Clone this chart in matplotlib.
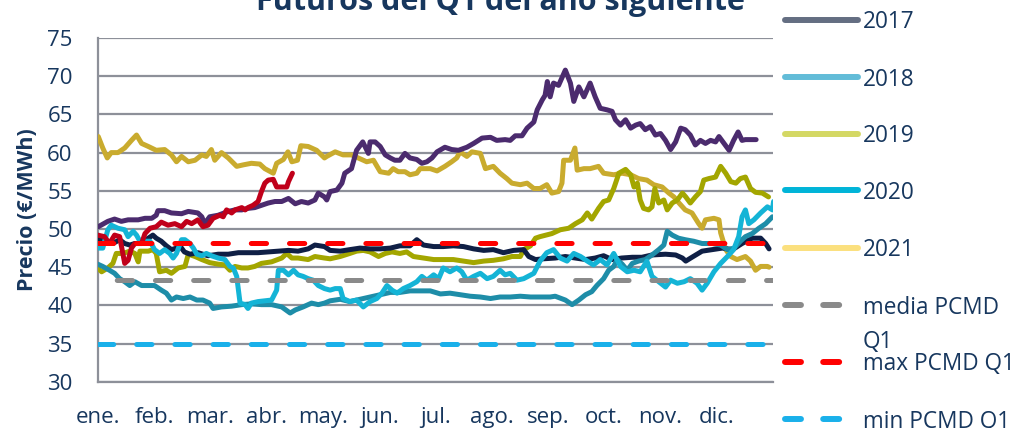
import matplotlib
matplotlib.use("Agg")
import matplotlib.pyplot as plt
from matplotlib.lines import Line2D

plt.rcParams['font.family'] = ['Open Sans', 'DejaVu Sans']
plt.rcParams['lines.scale_dashes'] = False

# ---------------- data ----------------
months = ["ene.", "feb.", "mar.", "abr.", "may.", "jun.", "jul.", "ago.", "sep.", "oct.", "nov.", "dic."]
yticks = [30, 35, 40, 45, 50, 55, 60, 65, 70, 75]

gold_x = [0.01, 0.09, 0.17, 0.24, 0.36, 0.48, 0.60, 0.69, 0.78, 0.90, 1.04, 1.19, 1.31, 1.40, 1.49, 1.61, 1.73, 1.85,
          1.93, 2.02, 2.08, 2.20, 2.32, 2.47, 2.59, 2.73, 2.88, 2.97, 3.12, 3.18, 3.30, 3.38, 3.45, 3.55, 3.61, 3.74,
          3.89, 4.03, 4.07, 4.22, 4.36, 4.51, 4.63, 4.78, 4.90, 5.02, 5.17, 5.25, 5.34, 5.46, 5.55, 5.67, 5.73, 5.91,
          6.03, 6.17, 6.29, 6.38, 6.44, 6.56, 6.65, 6.80, 6.89, 7.03, 7.15, 7.27, 7.36, 7.51, 7.63, 7.75, 7.86, 7.98,
          8.07, 8.19, 8.25, 8.28, 8.40, 8.48, 8.52, 8.64, 8.75, 8.90, 8.99, 9.17, 9.32, 9.47, 9.61, 9.76, 9.88, 10.03,
          10.15, 10.24, 10.33, 10.44, 10.56, 10.68, 10.74, 10.80, 10.95, 11.04, 11.07, 11.16, 11.25, 11.36, 11.51,
          11.60, 11.69, 11.78, 11.90, 11.93]
gold_y = [62.1, 60.6, 59.3, 60.0, 60.0, 60.6, 61.6, 62.3, 61.2, 60.8, 60.3, 60.4, 59.7, 58.8, 59.5, 58.8, 59.0, 59.7,
          59.5, 60.4, 59.0, 60.0, 59.3, 58.2, 58.4, 58.6, 58.5, 57.9, 57.3, 58.6, 59.1, 60.1, 58.8, 59.0, 60.9, 60.8,
          60.3, 59.3, 59.5, 60.1, 59.7, 59.7, 59.3, 58.8, 59.0, 57.5, 57.3, 57.9, 57.5, 57.5, 57.1, 57.3, 57.9, 57.9,
          57.6, 58.2, 58.8, 59.3, 60.1, 59.5, 60.1, 59.9, 57.9, 58.2, 57.3, 56.6, 56.0, 55.8, 56.0, 55.3, 55.3, 55.8,
          54.7, 54.9, 56.0, 59.0, 59.0, 60.6, 57.7, 57.9, 57.9, 58.2, 57.3, 57.1, 57.3, 57.1, 56.6, 56.4, 55.8, 55.5,
          54.7, 54.2, 53.4, 52.5, 52.1, 50.7, 50.1, 51.2, 51.4, 51.2, 49.5, 47.3, 46.4, 46.0, 46.4,
          45.8, 44.6, 45.1, 45.1, 45.0]

purple_x = [0.01, 0.18, 0.30, 0.42, 0.54, 0.72, 0.84, 0.96, 1.04, 1.07, 1.19, 1.31, 1.49, 1.61, 1.78, 1.85, 1.90, 1.99,
            2.14, 2.32, 2.44, 2.56, 2.67, 2.79, 2.91, 3.03, 3.15, 3.27, 3.39, 3.51, 3.62, 3.74, 3.86, 3.92, 4.03, 4.07,
            4.13, 4.25, 4.34, 4.39, 4.51, 4.60, 4.71, 4.81, 4.84, 4.93, 5.02, 5.11, 5.20, 5.28, 5.37, 5.46, 5.55, 5.67,
            5.76, 5.85, 5.94, 6.03, 6.17, 6.29, 6.41, 6.56, 6.68, 6.83, 6.98, 7.09, 7.24, 7.33, 7.42, 7.54, 7.63, 7.75,
            7.81, 7.90, 7.95, 7.99, 8.04, 8.10, 8.19, 8.31, 8.40, 8.46, 8.55, 8.64, 8.75, 8.84, 8.93, 9.05, 9.14, 9.20,
            9.29, 9.38, 9.47, 9.56, 9.64, 9.73, 9.82, 9.91, 10.00, 10.09, 10.18, 10.27, 10.36, 10.44, 10.53, 10.62,
            10.71, 10.80, 10.89, 10.98, 11.04, 11.13, 11.22, 11.30, 11.38, 11.45, 11.51, 11.70]
purple_y = [50.3, 51.0, 51.3, 51.0, 51.2, 51.2, 51.4, 51.4, 51.8, 52.4, 52.4, 52.1, 52.0, 52.3, 52.1, 51.6, 50.7, 51.6,
            51.8, 52.3, 52.5, 52.5, 52.7, 52.8, 53.1, 53.4, 53.6, 53.6, 54.0, 53.3, 53.6, 53.4, 53.8, 54.7, 54.2, 53.8,
            54.9, 55.1, 56.0, 57.3, 57.9, 60.3, 61.4, 59.9, 61.4, 61.4, 60.8, 59.7, 59.3, 59.0, 59.0, 59.9, 59.3, 59.1,
            58.6, 58.8, 59.3, 60.1, 60.7, 60.4, 60.3, 60.7, 61.2, 61.9, 62.0, 61.6, 61.7, 61.6, 62.2, 62.2, 63.2, 64.0,
            65.6, 66.9, 67.5, 69.3, 67.3, 69.1, 68.8, 70.8, 69.1, 66.7, 68.6, 67.3, 69.1, 67.3, 65.8, 65.6, 65.4, 64.3,
            63.6, 64.3, 63.2, 63.6, 63.8, 63.0, 63.4, 62.3, 62.5, 61.6, 60.4, 61.4, 63.2, 63.0, 62.3, 61.0,
            61.6, 61.2, 61.6, 61.4, 62.1, 61.2, 60.3, 61.6, 62.7, 61.6, 61.7, 61.7]

red_x = [0.00, 0.12, 0.21, 0.30, 0.39, 0.48, 0.54, 0.60, 0.66, 0.78, 0.84, 0.93, 1.04, 1.13, 1.25, 1.37, 1.49, 1.58,
         1.67, 1.78, 1.87, 1.96, 2.05, 2.17, 2.23, 2.29, 2.38, 2.44, 2.56, 2.62, 2.67, 2.76, 2.85, 2.91, 2.97, 3.03,
         3.12, 3.18, 3.27, 3.36, 3.39, 3.46]
red_y = [49.2, 49.0, 48.1, 49.2, 49.0, 45.5, 45.9, 47.5, 48.1, 48.1, 49.4, 50.1, 50.3, 50.9, 50.5, 50.7, 50.3, 51.0,
         50.7, 51.2, 50.3, 50.5, 51.4, 51.8, 51.6, 52.5, 52.1, 52.5, 52.8, 52.5, 52.8, 53.1, 53.6, 54.9, 56.0, 56.4,
         56.5, 55.5, 55.5, 55.5, 56.2, 57.3]

navy_x = [0.00, 0.07, 0.15, 0.27, 0.39, 0.48, 0.57, 0.66, 0.78, 0.90, 0.98, 1.04, 1.13, 1.22, 1.31, 1.40, 1.46, 1.54,
          1.64, 1.78, 1.96, 2.14, 2.32, 2.50, 2.67, 2.85, 3.03, 3.21, 3.39, 3.56, 3.74, 3.86, 4.03, 4.13, 4.31, 4.48,
          4.66, 4.84, 5.02, 5.20, 5.37, 5.55, 5.67, 5.79, 5.97, 6.14, 6.32, 6.50, 6.68, 6.86, 7.03, 7.21, 7.39, 7.57,
          7.66, 7.78, 7.92, 8.13, 8.31, 8.49, 8.67, 8.84, 8.99, 9.14, 9.31, 9.50, 9.67, 9.85, 10.09, 10.27, 10.39,
          10.45, 10.56, 10.74, 10.92, 11.10, 11.28, 11.45, 11.63, 11.78, 11.87, 11.93]
navy_y = [48.8, 48.6, 48.4, 48.1, 48.6, 48.1, 47.9, 48.1, 48.1, 48.8, 49.2, 48.8, 48.4, 47.8, 47.3, 47.5, 47.8, 47.0,
          46.7, 46.9, 46.5, 46.7, 46.7, 46.9, 46.9, 46.9, 47.0, 47.1, 47.2, 47.1, 47.4, 47.9, 47.7, 47.2, 47.1, 47.3,
          47.5, 47.4, 47.4, 47.5, 47.8, 47.8, 48.6, 47.9, 47.7, 47.7, 47.8, 47.7, 47.4, 47.2, 47.3, 46.9, 47.2, 47.3,
          46.4, 46.0, 46.1, 46.2, 46.4, 46.2, 46.0, 46.2, 46.5, 46.0, 46.2, 46.3, 46.3, 46.6, 46.7, 46.6, 46.2,
          45.8, 46.3, 47.1, 47.3, 47.5, 47.3, 48.1, 48.8, 48.8, 48.1, 47.4]

olive_x = [0.00, 0.07, 0.18, 0.27, 0.33, 0.45, 0.57, 0.66, 0.72, 0.75, 0.90, 0.98, 1.04, 1.10, 1.22, 1.31, 1.43, 1.55,
           1.61, 1.73, 1.85, 1.99, 2.14, 2.26, 2.35, 2.44, 2.56, 2.67, 2.79, 2.91, 3.09, 3.27, 3.36, 3.45, 3.56, 3.74,
           3.86, 4.03, 4.13, 4.31, 4.48, 4.60, 4.72, 4.84, 4.99, 5.11, 5.23, 5.37, 5.49, 5.61, 5.79, 5.97, 6.14, 6.32,
           6.50, 6.68, 6.86, 7.03, 7.21, 7.36, 7.51, 7.57, 7.69, 7.78, 7.86, 8.07, 8.22, 8.37, 8.49, 8.61, 8.70, 8.78,
           8.90, 8.99, 9.08, 9.17, 9.23, 9.26, 9.38, 9.47, 9.53, 9.59, 9.64, 9.70, 9.79, 9.85, 9.90, 9.97, 10.06,
           10.12, 10.21, 10.30, 10.39, 10.45, 10.53, 10.62, 10.71, 10.77, 10.86, 10.98, 11.07, 11.16, 11.25, 11.34,
           11.42, 11.51, 11.60, 11.69, 11.81, 11.92]
olive_y = [44.9, 44.4, 44.9, 45.5, 46.8, 46.8, 47.1, 46.8, 45.7, 47.1, 47.1, 47.3, 46.8, 44.4, 44.6, 44.2, 44.9, 45.1,
           46.7, 46.4, 46.0, 45.6, 45.4, 45.3, 44.6, 45.1, 44.9, 44.9, 45.1, 45.5, 45.7, 46.2, 46.8, 46.2, 46.2, 46.0,
           46.4, 46.2, 46.1, 46.4, 46.8, 47.1, 47.2, 47.0, 46.4, 46.8, 47.0, 46.8, 47.0, 46.4, 46.2, 46.0, 46.0, 46.0,
           45.8, 45.6, 45.8, 45.9, 46.1, 46.4, 46.4, 47.3, 47.8, 48.8, 49.0, 49.4, 49.9, 50.1, 50.7, 51.2, 52.1, 51.3,
           52.7, 53.6, 53.8, 55.3, 56.6, 57.3, 57.8, 57.1, 55.5, 56.0, 53.8, 52.7, 52.5, 52.9, 55.3, 53.4, 53.8,
           52.5, 53.4, 53.8, 54.7, 54.2, 53.4, 54.2, 54.9, 56.4, 56.6, 56.8, 58.2, 57.3, 56.2, 56.0,
           56.6, 56.8, 55.3, 54.8, 54.7, 54.2]

teal_x = [0.00, 0.09, 0.21, 0.30, 0.39, 0.48, 0.57, 0.66, 0.78, 0.90, 1.01, 1.13, 1.22, 1.31, 1.40, 1.52, 1.64, 1.76,
          1.87, 1.99, 2.05, 2.20, 2.38, 2.56, 2.73, 2.91, 3.09, 3.27, 3.42, 3.51, 3.65, 3.80, 3.92, 4.03, 4.13, 4.31,
          4.48, 4.66, 4.84, 5.02, 5.20, 5.37, 5.55, 5.73, 5.91, 6.09, 6.26, 6.44, 6.62, 6.80, 6.98, 7.15, 7.33, 7.51,
          7.69, 7.86, 8.04, 8.13, 8.31, 8.43, 8.55, 8.67, 8.78, 8.87, 8.99, 9.08, 9.17, 9.23, 9.32, 9.41, 9.50, 9.61,
          9.73, 9.85, 9.97, 10.06, 10.12, 10.21, 10.32, 10.44, 10.59, 10.74, 10.92, 11.07, 11.19, 11.31, 11.42, 11.51,
          11.63, 11.75, 11.87, 11.99]
teal_y = [45.4, 45.1, 44.6, 44.2, 43.5, 43.1, 42.6, 43.1, 42.6, 42.6, 42.6, 42.0, 41.6, 40.7, 41.1, 40.9, 41.1, 40.7,
          40.7, 40.3, 39.6, 39.8, 39.9, 40.1, 40.2, 40.1, 40.1, 39.8, 39.0, 39.4, 39.8, 40.3, 40.1, 40.3, 40.6, 40.8,
          40.5, 40.8, 41.1, 41.4, 41.7, 41.7, 41.9, 41.9, 41.9, 41.5, 41.6, 41.4, 41.2, 41.1, 40.9, 41.1, 41.1, 41.2,
          41.1, 41.1, 41.1, 41.2, 40.7, 40.1, 40.7, 41.4, 41.8, 42.6, 43.5, 44.6, 45.1, 46.0, 45.4, 44.6, 45.5, 45.8,
          46.0, 46.6, 47.3, 47.9, 49.7, 49.2, 48.8, 48.6, 48.4, 48.1, 48.1, 47.9, 47.3, 47.5, 48.4, 49.0,
          49.4, 50.1, 50.7, 51.6]

lblue_x = [0.00, 0.09, 0.18, 0.24, 0.36, 0.48, 0.54, 0.63, 0.69, 0.75, 0.84, 0.93, 1.01, 1.10, 1.19, 1.28, 1.34, 1.40,
           1.49, 1.55, 1.64, 1.70, 1.76, 1.85, 1.93, 2.02, 2.14, 2.26, 2.35, 2.41, 2.47, 2.53, 2.62, 2.67, 2.73, 2.85,
           2.97, 3.09, 3.18, 3.21, 3.30, 3.39, 3.48, 3.56, 3.65, 3.74, 3.83, 3.92, 4.03, 4.13, 4.22, 4.31, 4.36, 4.48,
           4.60, 4.72, 4.84, 4.96, 5.05, 5.14, 5.23, 5.32, 5.43, 5.55, 5.67, 5.76, 5.85, 5.97, 6.06, 6.14, 6.26, 6.38,
           6.47, 6.56, 6.68, 6.80, 6.92, 7.03, 7.15, 7.24, 7.33, 7.45, 7.57, 7.75, 7.86, 7.98, 8.10, 8.22, 8.34, 8.46,
           8.58, 8.70, 8.81, 8.93, 9.05, 9.17, 9.29, 9.41, 9.53, 9.64, 9.76, 9.85, 9.97, 10.09, 10.18, 10.30, 10.42,
           10.53, 10.65, 10.74, 10.83, 10.95, 11.07, 11.19, 11.30, 11.39, 11.45, 11.51, 11.57, 11.66, 11.78, 11.90,
           11.99, 12.01]
lblue_y = [47.5, 47.5, 49.9, 50.5, 50.1, 49.9, 49.0, 49.7, 49.2, 48.4, 48.4, 48.4, 47.3, 46.8, 47.3, 46.8, 46.2, 46.8,
           48.6, 48.6, 48.1, 47.5, 46.7, 46.5, 46.8, 46.5, 46.2, 46.0, 45.1, 44.9, 43.8, 40.3, 40.1, 39.6, 40.3, 40.5,
           40.6, 40.7, 42.0, 44.6, 44.6, 44.0, 44.6, 44.0, 43.8, 43.5, 43.3, 42.6, 42.2, 42.0, 42.2, 42.2, 40.9, 40.5,
           40.7, 39.8, 40.5, 40.9, 41.6, 42.6, 42.0, 41.6, 42.2, 42.6, 43.1, 43.8, 43.3, 44.0, 43.5, 44.9, 44.4, 44.9,
           44.4, 43.3, 43.8, 44.2, 43.5, 43.8, 44.6, 44.0, 44.2, 43.3, 43.5, 44.2, 45.8, 46.9, 47.3, 46.2, 45.8, 46.8,
           46.4, 45.8, 45.3, 46.0, 45.3, 46.8, 45.1, 44.4, 44.6, 44.4, 45.8, 43.8, 43.1, 42.4, 43.3, 42.9, 43.1,
           43.5, 42.9, 42.0, 42.9, 44.4, 45.5, 46.4, 47.3, 49.0, 51.6, 52.5, 50.7, 51.2, 52.1, 52.9,
           52.5, 53.6]

media_pcmd_q1 = 43.3
max_pcmd_q1 = 48.2
min_pcmd_q1 = 34.9

legend_labels = ["2017", "2018", "2019", "2020", "2021", "media PCMD\nQ1", "max PCMD Q1", "min PCMD Q1"]

# ---------------- styling ----------------
NAVY_TXT = "#17375e"
GRID = "#8d9099"
W, H = 1020, 428

fig = plt.figure(figsize=(W / 100, H / 100), dpi=100)
ax = fig.add_axes([97.7 / W, 1 - 381.8 / H, (773 - 97.7) / W, (381.8 - 38) / H])

lw = 3.6
solid = [
    (gold_x, gold_y, "#c9ab2e"),
    (purple_x, purple_y, "#4b2b6e"),
    (olive_x, olive_y, "#a3a600"),
    (navy_x, navy_y, "#0f1f45"),
    (teal_x, teal_y, "#1e8da8"),
    (lblue_x, lblue_y, "#14b4d6"),
    (red_x, red_y, "#c0001a"),
]
for xs, ys, c in solid:
    ax.plot(xs, ys, color=c, lw=lw, solid_joinstyle="round", solid_capstyle="round", zorder=3)

dash_on, dash_off = 11.0, 16.5
for val, c, off in [(media_pcmd_q1, "#8a8a8a", 14.0), (max_pcmd_q1, "#ff0000", 0.0), (min_pcmd_q1, "#1ab0ea", 0.0)]:
    ax.plot([0, 12], [val, val], color=c, lw=lw, dash_capstyle="round",
            linestyle=(off, (dash_on, dash_off)), zorder=4)

ax.set_xlim(0, 12)
ax.set_ylim(30, 75)
ax.set_yticks(yticks)
ax.set_xticks(range(12))
ax.set_xticklabels(months)
ax.yaxis.grid(True, color=GRID, lw=1.6, zorder=0)
ax.set_axisbelow(True)
for s in ["top", "right"]:
    ax.spines[s].set_visible(False)
for s in ["left", "bottom"]:
    ax.spines[s].set_color(GRID)
    ax.spines[s].set_linewidth(1.6)
ax.tick_params(axis="both", length=0, labelsize=16, labelcolor=NAVY_TXT)
ax.tick_params(axis="y", pad=18)
ax.tick_params(axis="x", pad=18)

fig.text(28 / W, 1 - 210 / H, "Precio (€/MWh)", rotation=90, ha="center", va="center",
         fontsize=15.5, fontweight="bold", color=NAVY_TXT)

fig.text(500 / W, 1 - 10 / H, "Futuros del Q1 del año siguiente", ha="center", va="baseline",
         fontsize=22, fontweight="bold", color=NAVY_TXT)

# ---------------- legend ----------------
leg_colors = ["#646e82", "#62bcd8", "#d4d864", "#00b4d8", "#fbe07e", "#8a8a8a", "#ff0000", "#1ab0ea"]
leg_dashed = [False] * 5 + [True] * 3
x0, x1, xt = 785, 858, 863
for i, (lab, c, d) in enumerate(zip(legend_labels, leg_colors, leg_dashed)):
    yp = 19.5 + 57 * i
    yf = 1 - yp / H
    if d:
        ln = Line2D([x0 / W, 843 / W], [yf, yf], transform=fig.transFigure, color=c, lw=4.3,
                    dash_capstyle="round", linestyle=(0, (11.5, 16.0)))
    else:
        ln = Line2D([x0 / W, x1 / W], [yf, yf], transform=fig.transFigure, color=c, lw=4.3,
                    solid_capstyle="round")
    fig.add_artist(ln)
    for j, t in enumerate(lab.split("\n")):
        fig.text(xt / W, 1 - (yp + 35 * j) / H, t, ha="left", va="center_baseline",
                 fontsize=16.3, color=NAVY_TXT)

fig.savefig("out.png", dpi=100)
